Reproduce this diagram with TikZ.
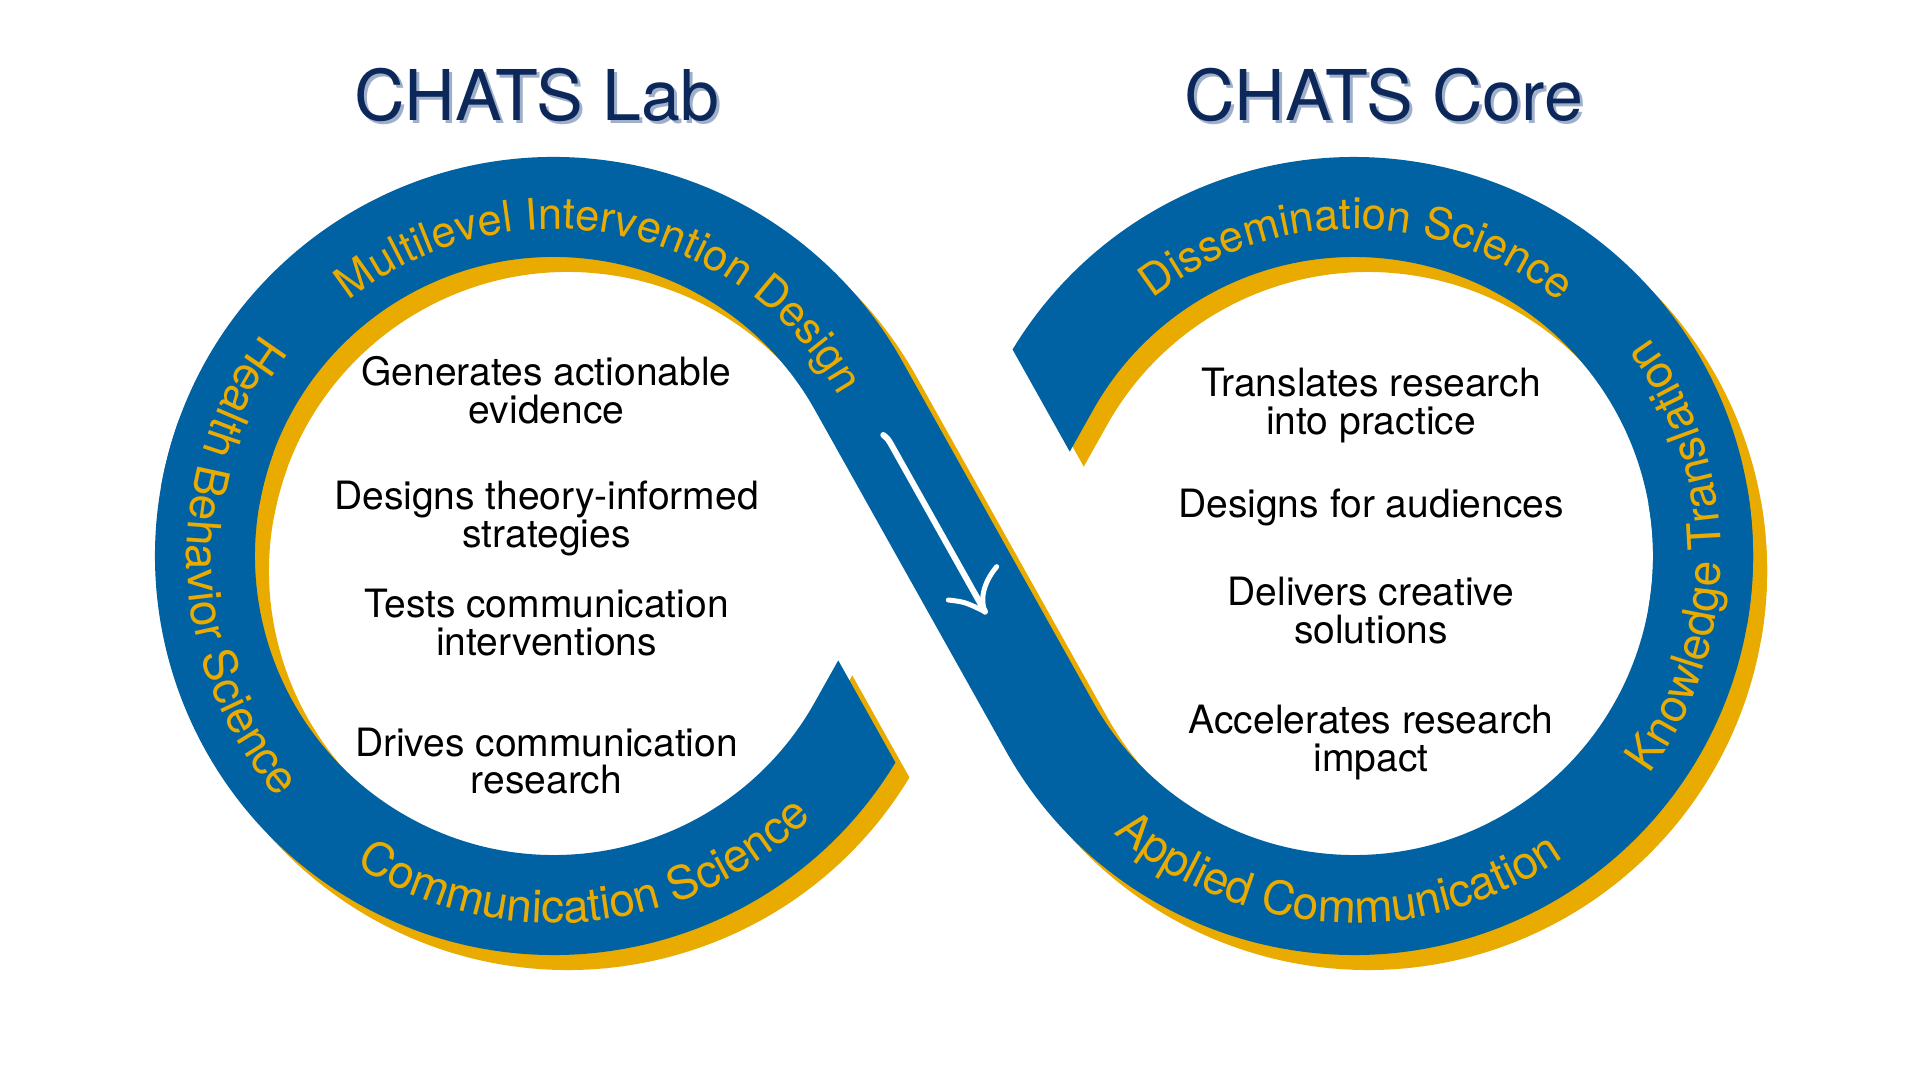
\documentclass[tikz,border=0pt]{standalone}
\usepackage{fontspec}
\setmainfont{TeX Gyre Heros}
\usetikzlibrary{calc,decorations.text}
\definecolor{ringblue}{RGB}{0,98,162}
\definecolor{ringgold}{RGB}{234,171,0}
\definecolor{titlenavy}{RGB}{12,40,90}
\definecolor{titleshade}{RGB}{160,176,202}
\newcommand{\labelsize}{\fontsize{46}{46}\selectfont}
\newcommand{\outlabelsize}{\fontsize{43.5}{43.5}\selectfont}
\newcommand{\drawinfinityband}[1]{%
  \begin{scope}
    \clip[shift={(M)}, rotate=-60.75] (-2000,-3000) rectangle (2000,-152);
    \draw[line width=100pt, #1] ($(T3)+(39.1,69.8)$) -- (T3) arc[start angle=-29.25, end angle=-200, radius=349];
  \end{scope}
  \draw[line width=100pt, #1] ($(C1)+(-190:349)$) arc[start angle=-190, end angle=-330.75, radius=349] -- (T2) arc[start angle=209.25, end angle=370, radius=349];
  \begin{scope}
    \clip[shift={(M)}, rotate=-60.75] (-2000,152) rectangle (2000,3000);
    \draw[line width=100pt, #1] ($(C2)+(350:349)$) arc[start angle=350, end angle=510.75, radius=349] -- ++(-39.1,-69.8);
  \end{scope}}
\tikzset{
  ringlabel/.style={decorate, decoration={text along path, text align=center, text color=ringgold}},
  body/.style={font=\fontsize{39}{37.5}\selectfont, align=center, inner sep=0pt, text=black},
  titletext/.style={font=\fontsize{70}{70}\selectfont, inner sep=0pt, text=titlenavy},
  titleshadow/.style={font=\fontsize{70}{70}\selectfont, inner sep=0pt, text=titleshade},
  arrowline/.style={draw=white, line cap=round, line join=round}
}
\begin{document}
\begin{tikzpicture}[x=1pt,y=1pt]
\useasboundingbox (0,0) rectangle (1920,1080);
\fill[white] (0,0) rectangle (1920,1080);
\coordinate (C1) at (554,524);
\coordinate (C2) at (1354,524);
\coordinate (M) at (954,524);
\coordinate (T2) at ($(C2)+(209.25:349)$);
\coordinate (T3) at ($(C1)+(-29.25:349)$);
% shadow
\begin{scope}[transform canvas={shift={(14pt,-15pt)}}]
  \drawinfinityband{ringgold}
\end{scope}
% band
\drawinfinityband{ringblue}
% ring labels
\path[ringlabel, decoration={text={|\outlabelsize|Multilevel Intervention Design}}]
  ($(C1)+(150:327)$) arc[start angle=150, end angle=29.25, radius=327] -- ++(59.3,-105.8);
\path[ringlabel, decoration={text={|\labelsize|Health Behavior Science}}]
  ($(C1)+(122:367)$) arc[start angle=122, end angle=242, radius=367];
\path[ringlabel, decoration={text={|\labelsize|Communication Science}}]
  ($(C1)+(216:367)$) arc[start angle=216, end angle=336, radius=367];
\path[ringlabel, decoration={text={|\outlabelsize|Dissemination Science}}]
  ($(C2)+(149.5:327)$) arc[start angle=149.5, end angle=29.5, radius=327];
\path[ringlabel, decoration={text={|\labelsize|Knowledge Translation}}]
  ($(C2)+(-60:367)$) arc[start angle=-60, end angle=60, radius=367];
\path[ringlabel, decoration={text={|\labelsize|Applied Communication}}]
  ($(C2)+(207:367)$) arc[start angle=207, end angle=327, radius=367];
% titles
\node[titleshadow] (labshade) at (540,982) {CHATS Lab};
\node[titletext] (labtitle) at (537,985) {CHATS Lab};
\node[titleshadow] (coreshade) at (1387,982) {CHATS Core};
\node[titletext] (coretitle) at (1384,985) {CHATS Core};
% left texts
\node[body] (gen) at (546.5,690) {Generates actionable\\evidence};
\node[body] (des) at (546.5,561.7) {Designs theory-informed\\strategies};
\node[body] (tes) at (546.5,457.3) {Tests communication\\interventions};
\node[body] (dri) at (546.5,319) {Drives communication\\research};
% right texts
\node[body] (tra) at (1371,674.7) {Translates research\\into practice};
\node[body] (aud) at (1371,572.4) {Designs for audiences};
\node[body] (del) at (1371,469.3) {Delivers creative\\solutions};
\node[body] (acc) at (1371,337.3) {Accelerates research\\impact};
% white arrow
\coordinate (arrS) at (883.3,645);
\coordinate (arrT) at (985,468.3);
\coordinate (arrL) at (948.3,480);
\coordinate (arrR) at (996.7,513.3);
\draw[arrowline, line width=6pt] (arrS) .. controls (888,641) .. (892,634) -- (arrT);
\draw[arrowline, line width=5pt] (arrL) .. controls (965,478) .. (arrT);
\draw[arrowline, line width=5pt] (arrR) .. controls (983,497) and (980,480) .. (arrT);
\end{tikzpicture}
\end{document}
